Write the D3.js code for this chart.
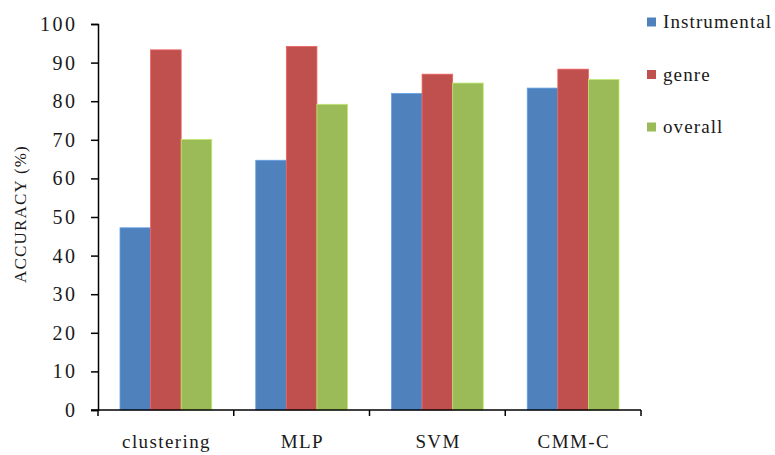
<!DOCTYPE html>
<html>
<head>
<meta charset="utf-8">
<script src="https://cdn.jsdelivr.net/npm/d3@7"></script>
<style>
  html, body { margin: 0; padding: 0; background: #fff; }
  #chart text { font-family: "Times New Roman", Times, "Liberation Serif", Tinos, "Noto Serif", "DejaVu Serif", FreeSerif, serif; }
</style>
</head>
<body>
<svg id="chart" width="775" height="455"></svg>
<script>
const categories = ["clustering", "MLP", "SVM", "CMM-C"];
const seriesNames = ["Instrumental", "genre", "overall"];
const instrumental = [47.2, 64.7, 82.0, 83.4];
const genre = [93.3, 94.2, 87.0, 88.3];
const overall = [70.1, 79.2, 84.7, 85.6];
const yTicks = [0, 10, 20, 30, 40, 50, 60, 70, 80, 90, 100];
const colors = ["#4F81BD", "#C0504D", "#9BBB59"];

const seriesValues = [instrumental, genre, overall];

const svg = d3.select("#chart");
const plotLeft = 98, plotRight = 641, plotTop = 24, plotBottom = 410;

const x = d3.scaleBand().domain(categories).range([plotLeft, plotRight]).paddingInner(0).paddingOuter(0);
const inner = d3.scaleBand().domain(seriesNames).range([22, x.bandwidth() - 22]).padding(0);
const y = d3.scaleLinear().domain([0, 100]).range([plotBottom, plotTop]);

// bars
const groups = svg.append("g").selectAll("g")
  .data(categories)
  .join("g")
  .attr("transform", d => `translate(${x(d)},0)`);

groups.selectAll("rect")
  .data((c, ci) => seriesNames.map((s, si) => ({ s, si, v: seriesValues[si][ci] })))
  .join("rect")
  .attr("x", d => inner(d.s))
  .attr("width", inner.bandwidth())
  .attr("y", d => y(d.v))
  .attr("height", d => y(0) - y(d.v))
  .attr("fill", d => colors[d.si])
  .attr("stroke", d => d3.color(colors[d.si]).brighter(0.6))
  .attr("stroke-width", 0.8);

// y axis
const yAxis = d3.axisLeft(y).tickValues(yTicks).tickSize(7).tickPadding(13.5);
const gy = svg.append("g").attr("transform", `translate(${plotLeft},0)`).call(yAxis)
  .attr("font-size", 20);
gy.select(".domain").attr("stroke", "#000").attr("stroke-width", 1.5);
gy.selectAll(".tick line").attr("stroke", "#000").attr("stroke-width", 1.5);
gy.selectAll(".tick text").attr("fill", "#1a1a1a").attr("letter-spacing", 2.5);

// x axis with boundary ticks between categories
const gx = svg.append("g").attr("transform", `translate(0,${plotBottom})`);
gx.append("line").attr("x1", plotLeft - 7).attr("x2", plotRight).attr("y1", 0).attr("y2", 0)
  .attr("stroke", "#000").attr("stroke-width", 1.5);
const boundaries = categories.map(c => x(c)).concat([x(categories[categories.length - 1]) + x.bandwidth()]);
gx.selectAll(".bt").data(boundaries).join("line")
  .attr("class", "bt")
  .attr("x1", d => d).attr("x2", d => d).attr("y1", 0).attr("y2", 6)
  .attr("stroke", "#000").attr("stroke-width", 1.5);
gx.selectAll(".cl").data(categories).join("text")
  .attr("class", "cl")
  .attr("x", d => x(d) + x.bandwidth() / 2 + 0.7)
  .attr("y", 38)
  .attr("text-anchor", "middle")
  .attr("font-size", 19)
  .attr("fill", "#1a1a1a")
  .attr("letter-spacing", 1.4)
  .text(d => d);

// y axis title
svg.append("text")
  .attr("transform", "translate(26,214) rotate(-90)")
  .attr("text-anchor", "middle")
  .attr("font-size", 17)
  .attr("fill", "#1a1a1a")
  .attr("letter-spacing", 1.2)
  .text("ACCURACY (%)");

// legend
const legend = svg.append("g").selectAll("g")
  .data(seriesNames)
  .join("g")
  .attr("transform", (d, i) => `translate(647,${22 + i * 52.5})`);
legend.append("rect")
  .attr("x", 0).attr("y", -4.5).attr("width", 9).attr("height", 9)
  .attr("fill", (d, i) => colors[i]);
legend.append("text")
  .attr("x", 16).attr("y", 6)
  .attr("font-size", 19)
  .attr("letter-spacing", 1.1)
  .attr("fill", "#1a1a1a")
  .text(d => d);
</script>
</body>
</html>
